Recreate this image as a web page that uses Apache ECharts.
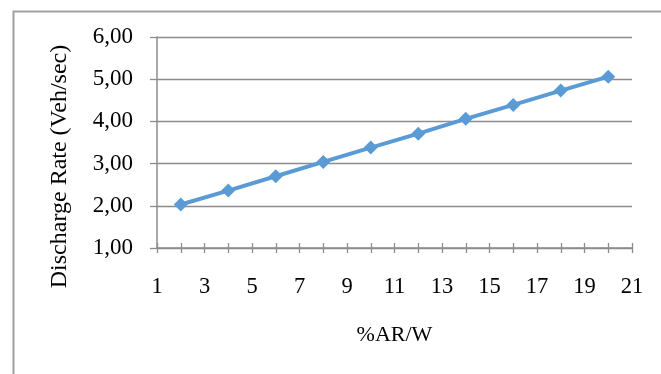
<!DOCTYPE html>
<html>
<head>
<meta charset="utf-8">
<style>
  html, body { margin: 0; padding: 0; background: #ffffff; }
  #chart { width: 661px; height: 374px; }
</style>
<script src="https://cdn.jsdelivr.net/npm/echarts@6/dist/echarts.min.js"></script>
</head>
<body>
<div id="chart"></div>
<script>
// %AR/W values (x) and the measured discharge rate (y)
const arw = [2, 4, 6, 8, 10, 12, 14, 16, 18, 20];
const dischargeRate = [2.03, 2.36, 2.70, 3.04, 3.38, 3.71, 4.06, 4.39, 4.73, 5.06];

// Axis ranges
const xMin = 1, xMax = 21, xStep = 1;
const yMin = 1, yMax = 6, yStep = 1;

const FONT = '"Liberation Serif", "Times New Roman", serif';
const GREY = '#8c8c8c';

const points = arw.map((x, i) => [x, dischargeRate[i]]);

const chart = echarts.init(document.getElementById('chart'), null, { renderer: 'canvas' });

chart.setOption({
  backgroundColor: '#ffffff',
  animation: false,
  graphic: [{
    type: 'rect',
    left: 11, top: 9,
    shape: { width: 700, height: 420 },
    style: { fill: 'none', stroke: '#a0a0a0', lineWidth: 2 },
    silent: true,
    z: -1
  }],
  grid: { left: 157, right: 29, top: 37, bottom: 126, containLabel: false },
  xAxis: [{
    type: 'value',
    min: xMin, max: xMax, interval: xStep,
    position: 'bottom',
    name: '%AR/W',
    nameLocation: 'middle',
    nameGap: 76,
    nameTextStyle: { fontFamily: FONT, fontSize: 22, color: '#000' },
    axisLine: { show: true, onZero: false, lineStyle: { color: GREY, width: 1.5 } },
    axisTick: { show: true, inside: false, length: 5, lineStyle: { color: GREY, width: 1.3 } },
    axisLabel: {
      fontFamily: FONT, fontSize: 22.5, color: '#000', margin: 28,
      formatter: v => (Math.round(v) % 2 === 1 ? String(Math.round(v)) : '')
    },
    splitLine: { show: false }
  }, {
    // same scale, drawing the upper half of the crossing tick marks
    type: 'value',
    min: xMin, max: xMax, interval: xStep,
    position: 'bottom',
    axisLine: { show: false, onZero: false },
    axisTick: { show: true, inside: true, length: 5, lineStyle: { color: GREY, width: 1.3 } },
    axisLabel: { show: false },
    splitLine: { show: false }
  }],
  yAxis: {
    type: 'value',
    min: yMin, max: yMax, interval: yStep,
    name: 'Discharge Rate (Veh/sec)',
    nameLocation: 'middle',
    nameGap: 85,
    nameTextStyle: { fontFamily: FONT, fontSize: 24, color: '#000', padding: [0, 48, 0, 0] },
    axisLine: { show: true, onZero: false, lineStyle: { color: GREY, width: 1.5 } },
    axisTick: { show: true, inside: false, length: 7, lineStyle: { color: GREY, width: 1.3 } },
    axisLabel: {
      fontFamily: FONT, fontSize: 23, color: '#000', margin: 24,
      formatter: v => v.toFixed(2).replace('.', ',')
    },
    splitLine: { show: true, lineStyle: { color: GREY, width: 1.3 } }
  },
  series: [{
    type: 'line',
    xAxisIndex: 0,
    data: points,
    symbol: 'diamond',
    symbolSize: 14,
    showSymbol: true,
    lineStyle: { color: '#5b9bd5', width: 4 },
    itemStyle: { color: '#5b9bd5' },
    z: 5
  }]
});
</script>
</body>
</html>
